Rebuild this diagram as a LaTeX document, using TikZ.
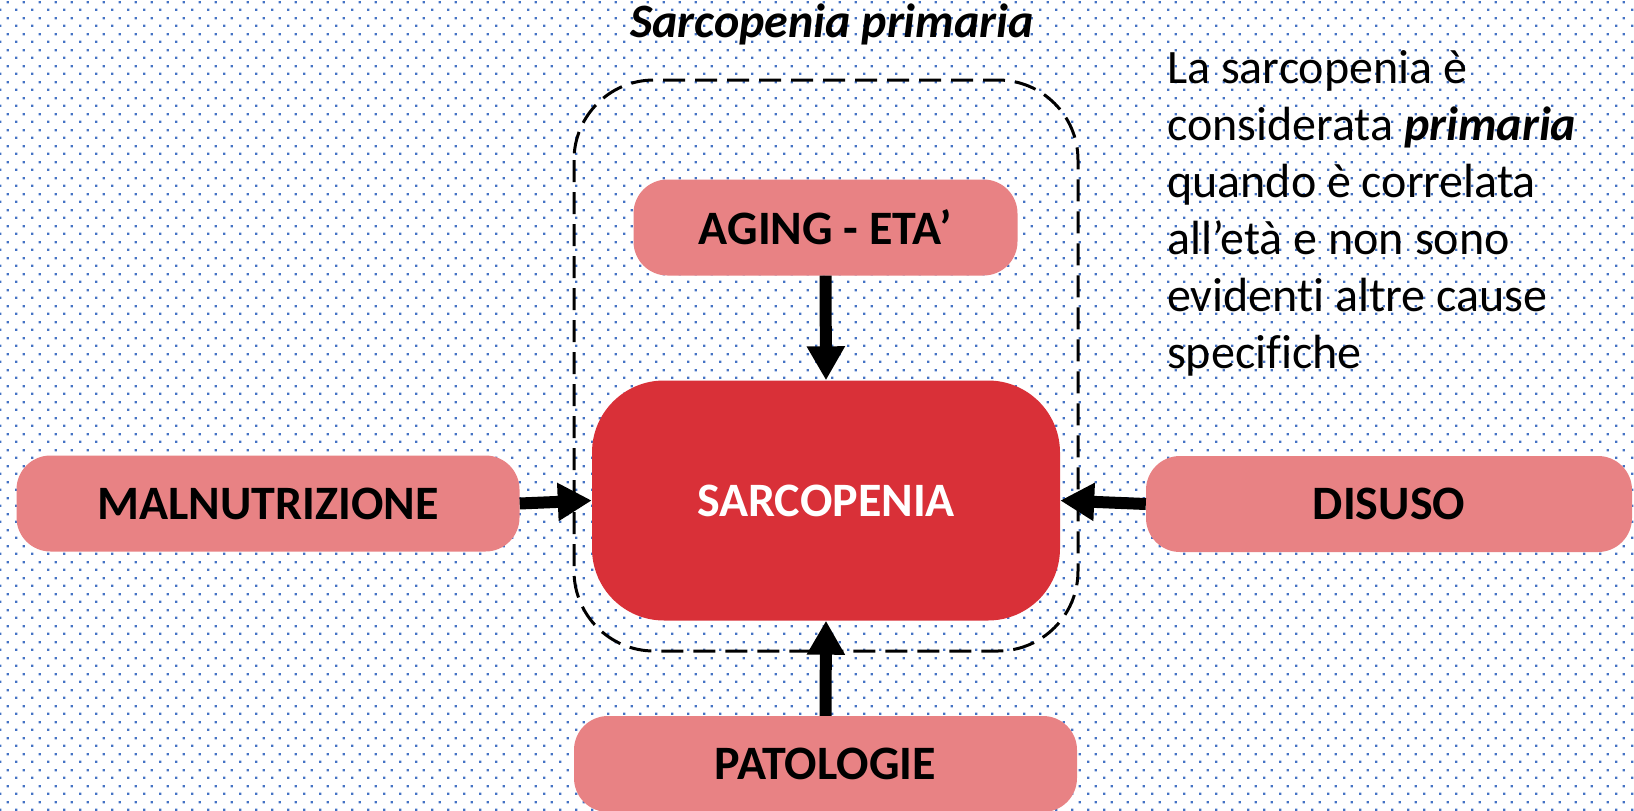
\documentclass[tikz,border=0pt]{standalone}
\usepackage{fontspec}
\setmainfont[Ligatures=NoCommon]{Carlito}
\usetikzlibrary{arrows.meta,patterns}
\pgfdeclarepatternformonly{bgdots}{\pgfpointorigin}{\pgfqpoint{16pt}{16pt}}{\pgfqpoint{16pt}{16pt}}{%
  \pgfpathrectangle{\pgfqpoint{0pt}{0pt}}{\pgfqpoint{2.4pt}{2.4pt}}%
  \pgfpathrectangle{\pgfqpoint{8pt}{8pt}}{\pgfqpoint{2.4pt}{2.4pt}}%
  \pgfusepath{fill}}
\definecolor{dotblue}{HTML}{4472C4}
\definecolor{lightred}{HTML}{E88284}
\definecolor{mainred}{HTML}{D93038}
\tikzset{
  cause/.style={fill=lightred, rounded corners=34pt, minimum height=96pt,
    inner sep=0pt, font=\fontsize{48}{57}\selectfont\bfseries},
  core/.style={fill=mainred, rounded corners=72pt, minimum width=468pt,
    minimum height=240pt, inner sep=0pt, text=white,
    font=\fontsize{48}{57}\selectfont\bfseries},
  fatarrow/.style={line width=12pt, -{Triangle[width=36pt,length=34pt]}},
  framebox/.style={draw=black, line width=3pt, dash pattern=on 22pt off 10pt,
    rounded corners=80pt},
  sidetext/.style={anchor=base west, inner sep=0pt,
    font=\fontsize{48}{57}\selectfont},
}
\begin{document}
\begin{tikzpicture}[x=1pt,y=-1pt]
  \useasboundingbox (0,0) rectangle (1634,811);
  \fill[white] (0,0) rectangle (1634,811);
  \fill[pattern=bgdots, pattern color=dotblue] (0,0) rectangle (1634,811);

  \draw[framebox] (574,80) rectangle (1078,651);

  \node[anchor=base, inner sep=0pt, font=\fontsize{48}{57}\selectfont\bfseries\itshape]
    (title) at (832,37) {Sarcopenia primaria};

  \node[cause, minimum width=384pt] (aging) at (825.5,227.5) {AGING - ETA’};
  \node[core] (sarc) at (826,500.5) {SARCOPENIA};
  \node[cause, minimum width=503pt] (maln) at (268,503.5) {MALNUTRIZIONE};
  \node[cause, minimum width=486pt] (disuso) at (1389,504) {DISUSO};
  \node[cause, minimum width=503pt] (pato) at (825.5,764) {PATOLOGIE};

  \draw[fatarrow] (aging.south) -- (sarc.north);
  \draw[fatarrow] (maln.east) -- (sarc.west);
  \draw[fatarrow] (disuso.west) -- (sarc.east);
  \draw[fatarrow] (pato.north) -- (sarc.south);

  \node[sidetext] (l1) at (1167,83) {La sarcopenia è};
  \node[sidetext] (l2) at (1167,140) {considerata \textbf{\textit{primaria}}};
  \node[sidetext] (l3) at (1167,197) {quando è correlata};
  \node[sidetext] (l4) at (1167,254) {all’età e non sono};
  \node[sidetext] (l5) at (1167,311) {evidenti altre cause};
  \node[sidetext] (l6) at (1167,368) {specifiche};
\end{tikzpicture}
\end{document}
